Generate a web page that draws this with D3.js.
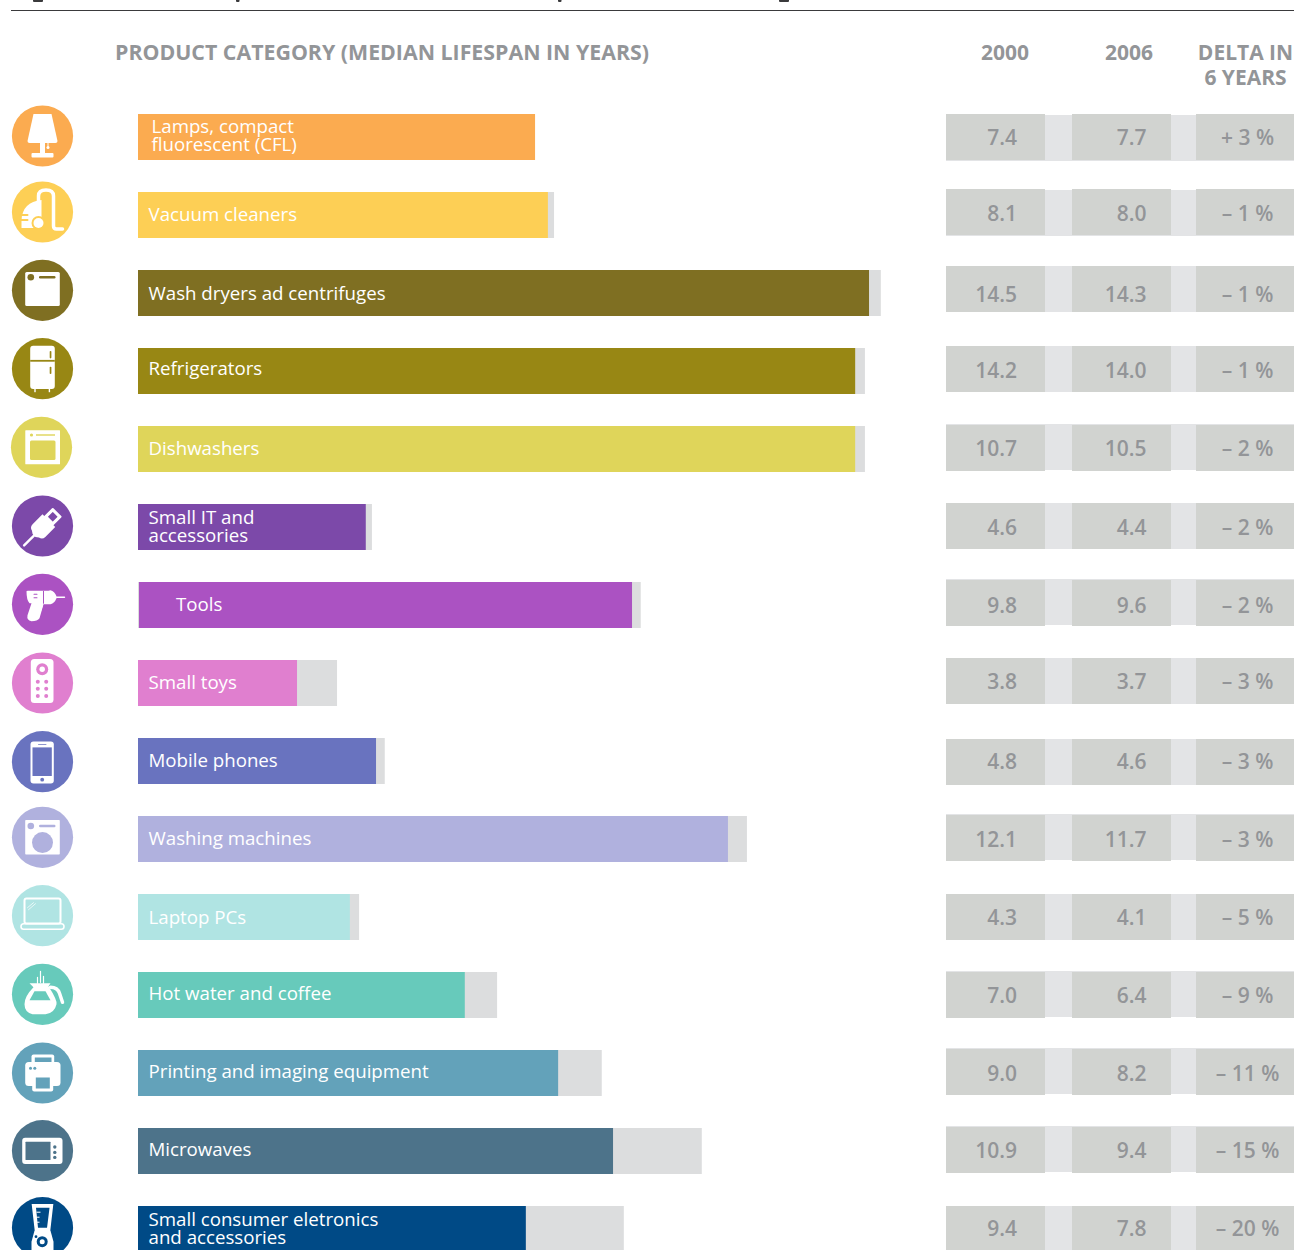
<!DOCTYPE html>
<html>
<head>
<meta charset="utf-8">
<script src="https://cdnjs.cloudflare.com/ajax/libs/d3/7.8.5/d3.min.js"></script>
<style>
html, body { margin: 0; padding: 0; background: #fff; overflow: hidden; }
svg { display: block; }
text { font-family: "Open Sans", sans-serif; }
</style>
</head>
<body>
<div id="chart-area"></div>
<script>
// Data
var categories = [
    ["Lamps, compact", "fluorescent (CFL)"],
    ["Vacuum cleaners"],
    ["Wash dryers ad centrifuges"],
    ["Refrigerators"],
    ["Dishwashers"],
    ["Small IT and", "accessories"],
    ["Tools"],
    ["Small toys"],
    ["Mobile phones"],
    ["Washing machines"],
    ["Laptop PCs"],
    ["Hot water and coffee"],
    ["Printing and imaging equipment"],
    ["Microwaves"],
    ["Small consumer eletronics", "and accessories"]
];
var values2000 = ["7.4", "8.1", "14.5", "14.2", "10.7", "4.6", "9.8", "3.8", "4.8", "12.1", "4.3", "7.0", "9.0", "10.9", "9.4"];
var values2006 = ["7.7", "8.0", "14.3", "14.0", "10.5", "4.4", "9.6", "3.7", "4.6", "11.7", "4.1", "6.4", "8.2", "9.4", "7.8"];
var deltas = ["+ 3 %", "– 1 %", "– 1 %", "– 1 %", "– 2 %", "– 2 %", "– 2 %", "– 3 %", "– 3 %", "– 3 %", "– 5 %", "– 9 %", "– 11 %", "– 15 %", "– 20 %"];

// Bar lengths as drawn, in years (they don't always agree with the printed numbers)
var barBack = [7.4, 8.11, 14.48, 14.17, 14.17, 4.56, 9.8, 3.88, 4.81, 11.87, 4.31, 7.0, 9.04, 10.99, 9.47];
var barFront = [7.74, 7.99, 14.25, 13.98, 13.98, 4.44, 9.63, 3.1, 4.64, 11.5, 4.13, 6.37, 8.19, 9.26, 7.56];

var colors = ["#fbab50", "#fdcf55", "#7f6f22", "#988714", "#dfd55a", "#7c49a9", "#ab52c2", "#e07fcf",
    "#6973bf", "#b0b1de", "#b0e4e3", "#67cabb", "#63a2ba", "#4d738a", "#004a86"];

// SVG Size
var width = 1294,
    height = 1250;

// The source layout is hand placed, rows drift by a pixel or so
var tableNudge = [0, -3, -4, -2, -1, -1, -2, -2, 1, -1, 0, 0, -1, -1, 0];
var cellTextNudge = [0, 1, 5, 1, 0, 1, 2, 0, -1, 1, 0, 0, 1, 0, -1];
var gapNudge = [1, 1, 0, 0, -1, 0, -1, 0, 0, -1, 0, -1, -1, -1, 0];
var iconNudge = [-1, -3, -2.7, -2.3, -1.7, -1, -0.7, 0, 0.7, -1.7, -1.3, -0.7, 0, -0.3, -1.3];
var iconX = [42.5, 42.5, 42.5, 42.5, 41.5, 42.5, 42.5, 42.5, 42.5, 42.5, 42.5, 42.5, 42.5, 42.5, 42.5];
var labelX = [13.5, 10.5, 10.5, 10.5, 10.5, 10.5, 38, 10.5, 10.5, 10.5, 10.5, 10.5, 10.5, 10.5, 10.5];
var labelNudge = [0, -1, 0, -3, -1, 1.5, -1, -1, -1, -1, 0, -2, -2, -2, 1];

var svg = d3.select("#chart-area")
    .append("svg")
    .attr("width", width)
    .attr("height", height);

// Scales
var lengthScale = d3.scaleLinear()
    .domain([0, 15])
    .range([138, 138 + 15 * 51.3]);

var rowScale = d3.scaleBand()
    .domain(d3.range(categories.length))
    .range([114, 114 + 78 * categories.length - 32])
    .paddingInner(32 / 78)
    .paddingOuter(0);

var columnEdges = [946, 1045, 1072, 1171, 1196, 1294];

var rows = d3.range(categories.length);

// Rule and the bits of the cropped title that hang below the top edge
svg.append("line")
    .attr("x1", 11).attr("x2", width)
    .attr("y1", 10.5).attr("y2", 10.5)
    .attr("stroke", "#3a3a3c")
    .attr("stroke-width", 1);

svg.selectAll(".crop")
    .data([[33, 10], [236, 3.5], [558, 3.5], [779, 10]])
    .enter()
    .append("rect")
    .attr("class", "crop")
    .attr("x", d => d[0])
    .attr("y", -1)
    .attr("width", d => d[1])
    .attr("height", 3)
    .attr("rx", 1)
    .attr("fill", "#3a3a3c");

// Column headers
var headerColor = "#939598";
var headers = [
    { text: "PRODUCT CATEGORY (MEDIAN LIFESPAN IN YEARS)", x: 115, y: 60, anchor: "start", len: 534 },
    { text: "2000", x: 1005, y: 60, anchor: "middle" },
    { text: "2006", x: 1129, y: 60, anchor: "middle" },
    { text: "DELTA IN", x: 1245.5, y: 60, anchor: "middle" },
    { text: "6 YEARS", x: 1245.5, y: 85, anchor: "middle" }
];

svg.selectAll(".header")
    .data(headers)
    .enter()
    .append("text")
    .attr("class", "header")
    .attr("x", d => d.x)
    .attr("y", d => d.y)
    .attr("text-anchor", d => d.anchor)
    .attr("textLength", d => d.len || null)
    .attr("lengthAdjust", "spacingAndGlyphs")
    .attr("font-size", 21)
    .attr("font-weight", 700)
    .attr("fill", headerColor)
    .text(d => d.text);

// Bars, grey one behind
svg.selectAll(".bar-back")
    .data(rows)
    .enter()
    .append("rect")
    .attr("class", "bar-back")
    .attr("x", lengthScale(0))
    .attr("y", d => rowScale(d))
    .attr("width", d => lengthScale(barBack[d]) - lengthScale(0))
    .attr("height", rowScale.bandwidth())
    .attr("fill", "#dcddde");

svg.selectAll(".bar-front")
    .data(rows)
    .enter()
    .append("rect")
    .attr("class", "bar-front")
    .attr("x", d => lengthScale(0) + (d === 6 ? 1 : 0))
    .attr("y", d => rowScale(d))
    .attr("width", d => lengthScale(barFront[d]) - lengthScale(0) - (d === 6 ? 1 : 0))
    .attr("height", rowScale.bandwidth())
    .attr("fill", d => colors[d]);

// Labels inside the bars
var labels = svg.selectAll(".label")
    .data(rows)
    .enter()
    .append("text")
    .attr("class", "label")
    .attr("font-size", 18.7)
    .attr("fill", "#fff")
    .attr("transform", d => "translate(" + (lengthScale(0) + labelX[d]) + "," + (rowScale(d) + 23 + labelNudge[d]) + ")");

labels.selectAll("tspan")
    .data(d => categories[d].map(function(line, i) { return { line: line, i: i, n: categories[d].length }; }))
    .enter()
    .append("tspan")
    .attr("x", 0)
    .attr("y", d => d.n === 1 ? 6.5 : (d.i === 0 ? -4.5 : 13.5))
    .text(d => d.line);

// Table on the right
var tableRows = svg.selectAll(".table-row")
    .data(rows)
    .enter()
    .append("g")
    .attr("class", "table-row")
    .attr("transform", d => "translate(0," + (rowScale(d) + tableNudge[d]) + ")");

tableRows.append("rect")
    .attr("x", columnEdges[0])
    .attr("y", d => gapNudge[d])
    .attr("width", columnEdges[5] - columnEdges[0])
    .attr("height", rowScale.bandwidth())
    .attr("fill", "#e3e4e6");

[0, 2, 4].forEach(function(c) {
    tableRows.append("rect")
        .attr("x", columnEdges[c])
        .attr("y", 0)
        .attr("width", columnEdges[c + 1] - columnEdges[c])
        .attr("height", rowScale.bandwidth())
        .attr("fill", "#d1d3d0");
});

function cellText(values, x, anchor) {
    tableRows.append("text")
        .attr("x", x)
        .attr("y", d => 31 + cellTextNudge[d])
        .attr("text-anchor", anchor)
        .attr("font-size", 21)
        .attr("font-weight", 600)
        .attr("fill", headerColor)
        .text(d => values[d]);
}
cellText(values2000, 1017, "end");
cellText(values2006, 1146.5, "end");
cellText(deltas, 1247.5, "middle");

// Round icons, each one drawn around its own centre
function shape(g, tag, attrs, fill) {
    var s = g.append(tag).attr("fill", fill === undefined ? "#fff" : fill);
    Object.keys(attrs).forEach(function(k) { s.attr(k, attrs[k]); });
    return s;
}
function box(g, x0, y0, x1, y1, rx, fill) {
    return shape(g, "rect", { x: x0, y: y0, width: x1 - x0, height: y1 - y0, rx: rx }, fill);
}
function dot(g, x, y, r, fill) {
    return shape(g, "circle", { cx: x, cy: y, r: r }, fill);
}
function stroke(g, d, w, color) {
    return shape(g, "path", { d: d, stroke: color || "#fff", "stroke-width": w, "stroke-linecap": "round", "stroke-linejoin": "round" }, "none");
}

var iconDrawers = [
    function lamp(g, c) {
        shape(g, "path", { d: "M-9,-22H9L15,5Q15,7 13,7H-13Q-15,7 -15,5Z" });
        box(g, -2.5, 7, 2.5, 18, 0);
        box(g, -11, 17, 11, 21.5, 1);
        stroke(g, "M5.5,6V11", 1);
        dot(g, 5.5, 11.5, 1.5);
    },
    function vacuum(g, c) {
        stroke(g, "M-4,-10V-16Q-4,-22 3.5,-22Q11,-22 11,-16V14Q11,17 14,17H20", 3.5);
        shape(g, "path", { d: "M-1,-12Q-20,-10 -21,8V16H-1Z" });
        stroke(g, "M-22,3H-15", 2, c);
        stroke(g, "M-22,8H-15", 2, c);
        dot(g, -4, 11, 7, c);
        dot(g, -4, 11, 5);
    },
    function washDryer(g, c) {
        box(g, -17.3, -18.3, 17.3, 15.7, 1.5);
        dot(g, -11.7, -13, 3.3, c);
        box(g, -3.5, -14.4, 13, -11.8, 1.2, c);
    },
    function fridge(g, c) {
        box(g, -12.3, -23, 12.3, 20.3, 3);
        box(g, -12.3, -8.8, 12.3, -7, 0, c);
        box(g, 7.2, -17.7, 8.9, -10.3, 0.8, c);
        box(g, 7.2, -2, 8.9, 5.3, 0.8, c);
        box(g, -8.2, 19, -6.8, 23.5, 0);
        box(g, 6.2, 19, 7.6, 23.5, 0);
    },
    function dishwasher(g, c) {
        box(g, -16.2, -17, 18.5, 17, 0.5);
        dot(g, -10, -12.3, 1.6, c);
        box(g, -5.5, -13, 13.5, -11.6, 0, c);
        box(g, -11.5, -6.7, 14, 12.7, 1.5, c);
    },
    function usb(g, c) {
        var r = g.append("g").attr("transform", "translate(0,1)rotate(45)");
        box(r, -6.5, -21, 6.5, -8, 1);
        box(r, -3.5, -18, 3.5, -11, 0.5, c);
        shape(r, "path", { d: "M-9,-9H9V5Q9,9 5,10L2,12H-2L-5,10Q-9,9 -9,5Z" });
        stroke(r, "M0,11V26", 2.4);
    },
    function drill(g, c) {
        shape(g, "path", { d: "M-16,-13Q-16,-14 -13,-13.5H6L8,-14Q12,-13 14,-8V-6Q12,-1 8,0H1L-3,14Q-5,17 -11,17Q-16,16 -15,11L-11,-1H-13Q-16,-4 -16,-13Z" });
        stroke(g, "M14,-7H22", 1.4);
        box(g, -9, -10.5, -5, -9.5, 0.5, c);
        box(g, -9, -7, -5, -6, 0.5, c);
        stroke(g, "M1,-13V-1", 1, c);
        stroke(g, "M0,1L-2,7", 1);
    },
    function remote(g, c) {
        box(g, -11.7, -24, 11, 20, 3.5);
        dot(g, -0.3, -13.7, 6, c);
        dot(g, -0.3, -13.7, 2.7);
        [-1.3, 5.7, 13].forEach(function(y) {
            dot(g, -4.7, y, 2, c);
            dot(g, 3.7, y, 2, c);
        });
    },
    function phone(g, c) {
        box(g, -12, -20.3, 11.3, 21.7, 3);
        box(g, -10, -14.3, 9.3, 14.3, 0, c);
        box(g, -4.5, -17.7, 4, -16.9, 0.4, c);
        dot(g, -0.3, 18, 1.9, c);
    },
    function washer(g, c) {
        box(g, -17.3, -17.3, 17.3, 17.3, 0.8);
        dot(g, -11.7, -11.3, 3.3, c);
        box(g, -3.5, -12.6, 13, -10, 1.2, c);
        dot(g, 0, 5.3, 10.5, c);
    },
    function laptop(g, c) {
        shape(g, "rect", { x: -18, y: -17.3, width: 36, height: 25, rx: 2, stroke: "#fff", "stroke-width": 2 }, "none");
        shape(g, "rect", { x: -21.5, y: 8, width: 43, height: 5.5, rx: 2.7, stroke: "#fff", "stroke-width": 1.6 }, "none");
        stroke(g, "M-15,-8L-9,-13", 0.7);
        stroke(g, "M-14,-6L-7,-12", 0.7);
    },
    function coffee(g, c) {
        stroke(g, "M-5,-17V-11M-2,-23V-12M1,-18V-11", 1.2);
        shape(g, "path", { d: "M-13,-11H8L6,-8Q15,6 14,10Q12,19 3,20H-10Q-18,18 -18,10Q-18,2 -9,-7Z" });
        shape(g, "path", { d: "M-8,-3H3L8,6H-13Z" }, c);
        stroke(g, "M8,-7Q15,-7 17,-1L20,8", 3.5);
    },
    function printer(g, c) {
        box(g, -11, -18.5, 11.7, -8, 2);
        box(g, -7.7, -15.5, 9, -10.5, 0, c);
        box(g, -17.3, -11, 18, 13, 3.5);
        dot(g, -12, -4.7, 1.5, c);
        dot(g, -7.7, -4.7, 1.5, c);
        box(g, -10.3, 3, 10.7, 18.5, 2);
        box(g, -6.7, 4.5, 7.3, 15.5, 0, c);
    },
    function microwave(g, c) {
        box(g, -20.3, -13, 20, 13.3, 3);
        box(g, -17, -9, 8, 9.3, 0.5, c);
        [-3.7, 1.7, 6.7].forEach(function(y) { dot(g, 12.3, y, 1.7, c); });
    },
    function blender(g, c) {
        shape(g, "path", { d: "M-10,-23H10L7,3H-7Z", stroke: "#fff", "stroke-width": 1.5 });
        shape(g, "path", { d: "M-6.5,-20H7L4.5,0H-4.5Z" }, c);
        box(g, -6, -16, -2, -15, 0, "#fff");
        box(g, -6, -11, -3, -10, 0, "#fff");
        box(g, -6, -6, -3, -5, 0, "#fff");
        shape(g, "path", { d: "M-8,3H8L11,14V27H-11V14Z" });
        dot(g, -0.3, 14, 5.5, c);
        dot(g, -0.3, 14, 2.5);
        dot(g, -6.5, 9, 1.4, c);
    }
];

var icons = svg.selectAll(".icon")
    .data(rows)
    .enter()
    .append("g")
    .attr("class", "icon")
    .attr("transform", d => "translate(" + iconX[d] + "," + (rowScale(d) + 23 + iconNudge[d]) + ")");

icons.append("circle")
    .attr("r", 30.6)
    .attr("fill", d => colors[d]);

icons.each(function(d) {
    iconDrawers[d](d3.select(this), colors[d]);
});
</script>
</body>
</html>
